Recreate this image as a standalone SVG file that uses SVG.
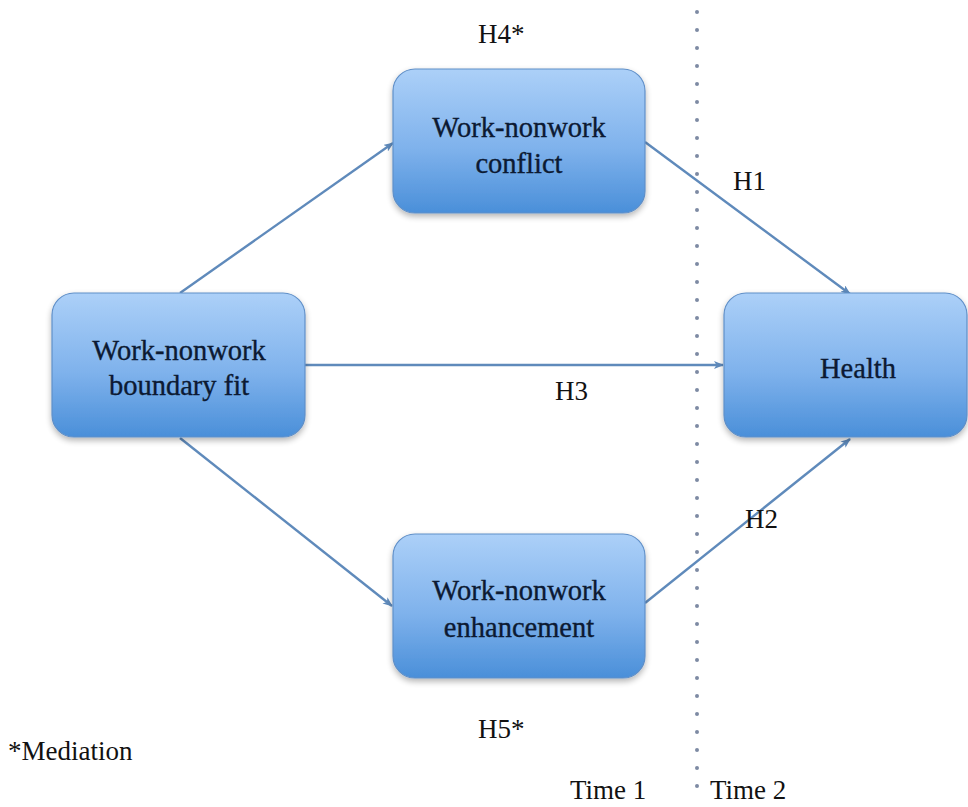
<svg xmlns="http://www.w3.org/2000/svg" width="968" height="807" viewBox="0 0 968 807">
<style>
.box{fill:url(#g);stroke:#5f8fc8;stroke-width:1.2;filter:url(#sh)}
.t{font-family:'Liberation Serif',Tinos,'Times New Roman',Times,'DejaVu Serif',serif;font-size:27px;fill:#111}
.bt{font-family:'Liberation Serif',Tinos,'Times New Roman',Times,'DejaVu Serif',serif;font-size:28.5px;fill:#0c1a33;stroke:#0c1a33;stroke-width:0.35;text-anchor:middle}
.c{stroke:#5f8abb;stroke-width:2.4;fill:none;marker-end:url(#ah)}
</style>
<defs>
<linearGradient id="g" x1="0" y1="0" x2="0" y2="1">
<stop offset="0" stop-color="#acd0f8"/>
<stop offset="0.55" stop-color="#7fb2ec"/>
<stop offset="1" stop-color="#4a8fd9"/>
</linearGradient>
<filter id="sh" x="-10%" y="-10%" width="120%" height="130%">
<feGaussianBlur in="SourceAlpha" stdDeviation="3"/>
<feOffset dy="3"/>
<feComponentTransfer><feFuncA type="linear" slope="0.3"/></feComponentTransfer>
<feMerge><feMergeNode/><feMergeNode in="SourceGraphic"/></feMerge>
</filter>
<marker id="ah" markerWidth="10" markerHeight="8" refX="9" refY="4" orient="auto" markerUnits="userSpaceOnUse">
<path d="M0,0 L10,4 L0,8 L2.5,4 Z" fill="#5f8abb"/>
</marker>
</defs>
<rect width="968" height="807" fill="#fff"/>
<line x1="697" y1="12" x2="697" y2="800" stroke="#7d8aa3" stroke-width="4" stroke-linecap="round" stroke-dasharray="0 18"/>
<g id="connectors">
<line class="c" x1="180" y1="293" x2="393" y2="143"/>
<line class="c" x1="645" y1="142" x2="850" y2="294"/>
<line class="c" x1="305" y1="365" x2="723" y2="365"/>
<line class="c" x1="180" y1="438" x2="392" y2="606"/>
<line class="c" x1="645" y1="603" x2="850" y2="439"/>
</g>
<g id="conflict">
<rect class="box" x="393" y="69" width="252" height="144" rx="22"/>
<text class="bt" x="519" y="137">Work-nonwork</text>
<text class="bt" x="519" y="173">conflict</text>
</g>
<g id="boundary">
<rect class="box" x="52" y="293" width="253" height="144" rx="22"/>
<text class="bt" x="179" y="360">Work-nonwork</text>
<text class="bt" x="179" y="395">boundary fit</text>
</g>
<g id="health">
<rect class="box" x="724" y="293" width="243" height="144" rx="22"/>
<text class="bt" x="858" y="378">Health</text>
</g>
<g id="enhancement">
<rect class="box" x="393" y="534" width="252" height="144" rx="22"/>
<text class="bt" x="519" y="600">Work-nonwork</text>
<text class="bt" x="519" y="637">enhancement</text>
</g>
<g id="labels">
<text class="t" x="478" y="43">H4*</text>
<text class="t" x="733" y="190">H1</text>
<text class="t" x="555" y="400">H3</text>
<text class="t" x="745" y="528">H2</text>
<text class="t" x="478" y="738">H5*</text>
<text class="t" x="8" y="760">*Mediation</text>
<text class="t" x="570" y="799">Time 1</text>
<text class="t" x="710" y="799">Time 2</text>
</g>
</svg>
